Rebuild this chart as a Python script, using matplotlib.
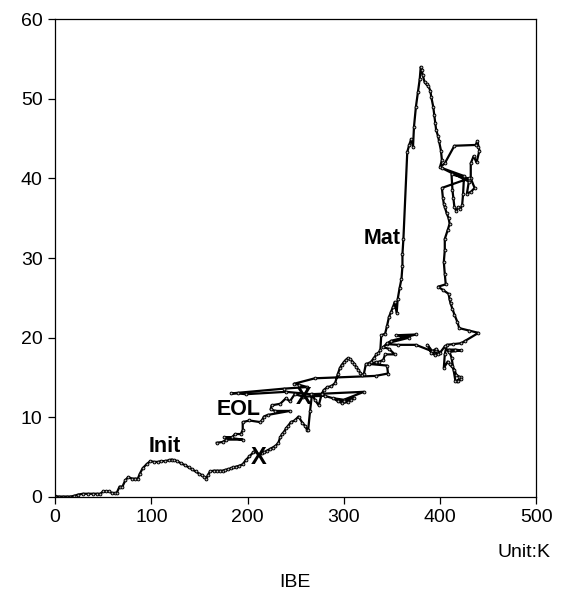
import numpy as np
import matplotlib.pyplot as plt

plt.rcParams['font.family'] = ['Liberation Sans', 'DejaVu Sans']

# trajectory, read in order: early rise, the peak and its loop, the way back
rise_x = [0, 4, 8, 12, 16, 20, 24, 29, 34, 39, 44, 47, 50, 53, 56, 59, 62, 64, 67, 70,
          73, 76, 80, 83, 86, 88, 91, 95, 99, 103, 107, 110, 114, 118, 121, 124, 127, 131, 135, 139,
          142, 146, 150, 153, 155, 157, 159, 161, 165, 168, 171, 174, 177, 180, 183, 185, 188, 191, 195, 198,
          202, 206, 208, 212, 215, 217, 220, 223, 226, 229, 232, 234, 236, 238, 240, 242, 245, 249, 253, 257,
          260, 262, 263, 265, 267, 270, 274, 277, 279, 283, 287, 291, 294, 296, 298, 300, 302, 304, 307, 309,
          311, 313, 315, 317, 319, 321, 323, 326, 328, 331, 334, 336, 338, 339, 343, 345, 347, 349, 351, 353,
          355, 356, 358, 360, 361, 361, 362]
rise_y = [0.1, 0.05, 0.05, 0.05, 0.05, 0.15, 0.3, 0.4, 0.4, 0.4, 0.4, 0.4, 0.7, 0.7, 0.7, 0.5, 0.5, 0.5, 1.3, 1.3,
          2.1, 2.5, 2.3, 2.3, 2.3, 2.9, 3.6, 4.1, 4.5, 4.4, 4.4, 4.5, 4.5, 4.6, 4.7, 4.6, 4.5, 4.2, 4.0, 3.7,
          3.5, 3.2, 2.9, 2.7, 2.5, 2.3, 2.8, 3.2, 3.3, 3.3, 3.3, 3.3, 3.4, 3.5, 3.6, 3.7, 3.8, 3.9, 4.1, 4.6,
          5.1, 5.6, 5.8, 5.3, 5.5, 5.6, 5.8, 6.0, 6.2, 6.4, 6.8, 7.5, 7.9, 8.2, 8.6, 8.9, 9.4, 9.6, 10.1, 9.3,
          8.9, 8.4, 8.4, 10.8, 12.9, 12.2, 11.5, 12.9, 13.4, 13.8, 13.9, 14.3, 15.5, 16.2, 16.6, 16.9, 17.2, 17.4, 17.3, 17.0,
          16.7, 16.3, 16.0, 15.6, 15.3, 15.5, 16.7, 16.8, 16.9, 17.4, 17.9, 18.1, 18.4, 20.3, 20.5, 21.5, 22.6, 23.2, 23.8, 24.5,
          23.1, 24.8, 26.2, 27.4, 29.0, 30.5, 32.4]

peak_x = [366, 368, 370, 372, 373, 375, 377, 379, 380, 381, 382, 384, 386, 388, 390, 391, 393, 394, 395, 396,
          398, 399, 401, 402, 400, 405, 415, 437, 439, 440, 441, 438, 435, 432, 432, 436, 432, 428, 430, 402,
          425, 424, 423, 421, 419, 417, 415, 414, 413, 412, 430, 402, 403, 404, 405, 407, 409, 410, 408, 405,
          405, 404, 405, 406, 398, 403, 409, 410, 411, 413, 415, 418, 420, 430, 440, 426, 422, 414, 407, 405,
          404, 408, 410, 412, 415, 417, 420, 422, 418, 422, 419, 416, 412, 409, 416, 422, 409, 405, 400, 396,
          392, 387, 391, 395, 398]
peak_y = [43.3, 44.2, 44.9, 44.0, 46.5, 49.0, 50.8, 52.5, 54.0, 53.6, 53.0, 52.1, 51.8, 51.6, 51.0, 50.2, 49.0, 48.0, 47.0, 46.1,
          45.3, 44.7, 43.5, 42.3, 41.4, 41.9, 44.1, 44.2, 44.7, 44.0, 43.5, 42.0, 42.8, 41.9, 40.0, 38.8, 38.3, 38.1, 39.6, 41.3,
          40.3, 38.0, 36.6, 36.2, 36.4, 35.9, 36.4, 37.5, 38.5, 40.5, 40.0, 38.8, 37.6, 36.8, 36.4, 35.6, 35.0, 34.3, 33.5, 32.4,
          31.0, 29.5, 28.0, 26.7, 26.4, 26.0, 25.5, 24.8, 24.3, 23.6, 22.9, 22.0, 21.2, 20.9, 20.6, 19.6, 19.3, 19.2, 19.1, 17.9,
          16.2, 17.0, 16.7, 16.4, 16.0, 15.3, 15.1, 15.0, 14.6, 14.8, 14.5, 14.6, 17.5, 18.5, 18.5, 18.4, 18.2, 18.9, 18.1, 18.6,
          18.3, 19.1, 18.1, 17.8, 18.0]

back_x = [375, 356, 345, 349, 375, 354, 368, 345, 341, 347, 353, 343, 341, 337, 333, 326, 345, 346, 333, 270,
          248, 253, 262, 238, 183, 190, 198, 240, 266, 321, 300, 289, 294, 298, 304, 308, 311, 300, 280, 258,
          249, 244, 240, 234, 225, 224, 229, 244, 221, 217, 215, 213, 202, 195, 195, 193, 187, 184, 176, 195,
          178, 174, 168]
back_y = [19.1, 19.1, 19.2, 19.6, 20.4, 20.3, 20.0, 19.3, 18.8, 18.6, 17.9, 17.9, 17.2, 17.0, 16.9, 16.7, 16.5, 15.5, 15.2, 14.9,
          14.2, 14.1, 13.8, 13.6, 13.0, 13.0, 12.9, 13.2, 12.9, 13.2, 12.2, 12.4, 12.0, 11.8, 11.9, 12.2, 12.4, 12.0, 12.7, 12.6,
          12.9, 12.0, 12.4, 11.7, 11.5, 11.0, 10.8, 10.8, 10.3, 10.1, 9.6, 9.4, 9.6, 9.4, 8.4, 7.9, 7.9, 7.5, 7.5, 7.2,
          7.2, 6.9, 6.8]

# stage labels and the two cross marks
stage_names = ['Init', 'EOL', 'Mat']
stage_x = [114, 191, 340]
stage_y = [6.3, 11.0, 32.5]
cross_x = [212, 258]
cross_y = [4.9, 12.5]

x = np.array(rise_x + peak_x + back_x)
y = np.array(rise_y + peak_y + back_y)

fig = plt.figure(figsize=(5.68, 5.98), dpi=100)
ax = fig.add_axes([0.097, 0.169, 0.847, 0.799])

ax.plot(x, y, color='black', lw=1.6, marker='o', ms=2.0,
        mfc='#bbbbbb', mec='black', mew=0.7)

for name, tx, ty in zip(stage_names, stage_x, stage_y):
    ax.text(tx, ty, name, fontsize=15.5, fontweight='bold', ha='center', va='center')
for cx, cy in zip(cross_x, cross_y):
    ax.text(cx, cy, 'X', fontsize=17, fontweight='bold', ha='center', va='center')

ax.set_xlim(0, 500)
ax.set_ylim(0, 60)
ax.set_xticks([0, 100, 200, 300, 400, 500])
ax.set_yticks([0, 10, 20, 30, 40, 50, 60])
ax.tick_params(direction='out', length=5, width=0.9, labelsize=14, pad=4)
for sp in ax.spines.values():
    sp.set_linewidth(0.9)

fig.text(0.97, 0.076, 'Unit:K', fontsize=14, ha='right', va='center')
fig.text(0.52, 0.026, 'IBE', fontsize=14, ha='center', va='center')

fig.savefig('out.png', dpi=100)
